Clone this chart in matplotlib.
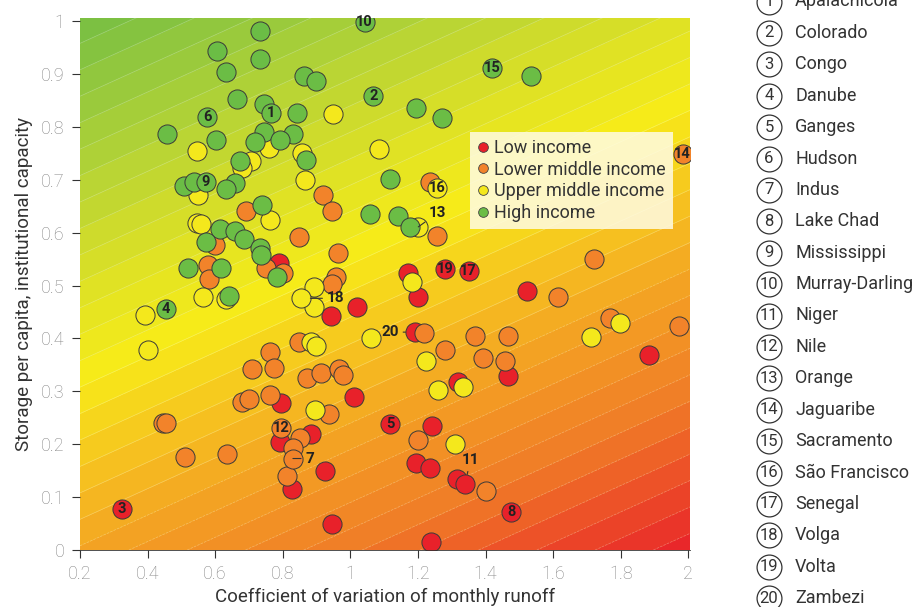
import numpy as np
import matplotlib.pyplot as plt
from matplotlib.colors import LinearSegmentedColormap
from matplotlib.lines import Line2D

plt.rcParams['font.family'] = ['Roboto', 'DejaVu Sans']

# basins by income group: (coefficient of variation of runoff, storage / institutional capacity)
low_x = [0.789, 1.019, 0.942, 0.796, 1.011, 0.883, 0.792, 0.924, 0.828, 0.947, 1.170,
         1.199, 1.522, 1.319, 1.466, 1.884, 1.242, 1.194, 1.235, 1.317, 1.239]
low_y = [0.542, 0.459, 0.442, 0.278, 0.289, 0.219, 0.205, 0.150, 0.116, 0.049, 0.523,
         0.479, 0.490, 0.318, 0.329, 0.369, 0.234, 0.164, 0.156, 0.134, 0.016]

lower_x = [0.920, 0.946, 0.691, 0.849, 0.962, 0.958, 0.945, 0.580, 0.599, 0.583, 0.751,
           0.802, 0.849, 0.762, 0.708, 0.775, 0.871, 0.913, 0.965, 0.979, 0.678, 0.699,
           0.763, 0.938, 0.447, 0.455, 0.851, 0.830, 0.510, 0.634, 0.812, 1.256, 1.218,
           1.370, 1.465, 1.281, 1.392, 1.459, 1.722, 1.613, 1.768, 1.972, 1.201, 1.402, 1.236]
lower_y = [0.672, 0.641, 0.641, 0.592, 0.561, 0.517, 0.503, 0.539, 0.577, 0.512, 0.533,
           0.523, 0.393, 0.375, 0.342, 0.344, 0.325, 0.335, 0.343, 0.331, 0.280, 0.285,
           0.294, 0.257, 0.240, 0.240, 0.211, 0.192, 0.176, 0.181, 0.139, 0.594, 0.410,
           0.405, 0.405, 0.379, 0.364, 0.357, 0.551, 0.479, 0.438, 0.424, 0.208, 0.112, 0.696]

upper_x = [0.950, 1.086, 0.547, 0.759, 0.858, 0.707, 0.680, 0.866, 0.549, 0.547, 0.557,
           0.762, 0.565, 0.632, 0.891, 0.893, 0.392, 0.400, 0.883, 0.899, 1.061, 0.894,
           1.182, 1.224, 1.258, 1.332, 1.311, 1.712, 1.799]
upper_y = [0.824, 0.759, 0.755, 0.761, 0.751, 0.736, 0.723, 0.699, 0.671, 0.619, 0.616,
           0.624, 0.478, 0.475, 0.498, 0.460, 0.444, 0.378, 0.393, 0.386, 0.401, 0.265,
           0.506, 0.357, 0.302, 0.309, 0.200, 0.402, 0.430]

high_x = [0.733, 0.605, 0.733, 0.632, 0.863, 0.897, 0.664, 0.744, 0.842, 0.458, 0.602,
          0.744, 0.717, 0.830, 0.793, 0.672, 0.868, 1.118, 0.509, 0.537, 0.660, 0.631,
          0.738, 1.058, 1.142, 1.177, 0.615, 0.660, 0.573, 0.686, 0.733, 0.735, 0.520,
          0.618, 0.782, 0.640, 1.534, 1.195, 1.272]
high_y = [0.982, 0.944, 0.928, 0.903, 0.896, 0.887, 0.852, 0.843, 0.827, 0.786, 0.775,
          0.791, 0.772, 0.786, 0.775, 0.735, 0.737, 0.701, 0.689, 0.696, 0.694, 0.682,
          0.652, 0.635, 0.632, 0.611, 0.607, 0.604, 0.583, 0.589, 0.572, 0.558, 0.534,
          0.534, 0.517, 0.481, 0.897, 0.836, 0.817]

# named basins, numbered 1..20
river_names = ['Apalachicola', 'Colorado', 'Congo', 'Danube', 'Ganges', 'Hudson', 'Indus',
               'Lake Chad', 'Mississippi', 'Murray-Darling', 'Niger', 'Nile', 'Orange',
               'Jaguaribe', 'Sacramento', 'São Francisco', 'Senegal', 'Volga', 'Volta', 'Zambezi']
river_x = [0.765, 1.068, 0.323, 0.455, 1.118, 0.576, 0.830, 1.476, 0.573, 1.042,
           1.339, 0.795, 1.201, 1.983, 1.420, 1.256, 1.350, 0.853, 1.281, 1.192]
river_y = [0.827, 0.859, 0.078, 0.455, 0.238, 0.819, 0.173, 0.071, 0.695, 0.998,
           0.125, 0.231, 0.611, 0.748, 0.912, 0.685, 0.528, 0.476, 0.531, 0.412]
river_group = ['high', 'high', 'low', 'high', 'low', 'high', 'lower', 'low', 'high', 'high',
               'low', 'lower', 'upper', 'lower', 'high', 'upper', 'low', 'upper', 'low', 'low']
# numbers written beside the dot instead of on it (offset in points)
callouts = {7: (12, 0), 11: (4, 17), 13: (14, 10), 18: (25, 0), 20: (-18, 0)}

groups = {
    'low': (low_x, low_y, '#E8212A', 'Low income'),
    'lower': (lower_x, lower_y, '#F2832A', 'Lower middle income'),
    'upper': (upper_x, upper_y, '#F4E81C', 'Upper middle income'),
    'high': (high_x, high_y, '#6BBD45', 'High income'),
}
order = ['low', 'lower', 'upper', 'high']

fig = plt.figure(figsize=(9.24, 6.07), dpi=100)
ax = fig.add_axes([80 / 924, 57 / 607, 610 / 924, 532 / 607])

# diagonal banded background: green (safe) to red (vulnerable)
bg = LinearSegmentedColormap.from_list('risk', [
    (0.00, '#E8202A'), (0.094, '#EC4A28'), (0.1875, '#F07A27'), (0.3125, '#F39D24'),
    (0.4375, '#F6C41F'), (0.544, '#F7EC18'), (0.656, '#DCE026'), (0.78, '#B5D336'),
    (1.00, '#6DBB45')])
gx, gy = np.meshgrid(np.linspace(0.2, 2.01, 400), np.linspace(0, 1.01, 300))
gz = gy - 0.29 * gx
levels = np.arange(-0.6, 1.0001, 0.05)
ax.contourf(gx, gy, gz, levels=levels, cmap=bg, zorder=0)
ax.contour(gx, gy, gz, levels=levels, colors='white', linewidths=0.5, alpha=0.3, zorder=0)

# dots, low income at the bottom of the stack
for z, g in enumerate(order):
    xs, ys, col, _ = groups[g]
    nx = [x for x, k in zip(river_x, river_group) if k == g]
    ny = [y for y, k in zip(river_y, river_group) if k == g]
    ax.scatter(list(xs) + nx, list(ys) + ny, s=190, c=col, edgecolors='#3a3a3a',
               linewidths=0.7, zorder=2 + z)

for i, (x, y) in enumerate(zip(river_x, river_y), start=1):
    if i in callouts:
        ax.annotate(str(i), (x, y), xytext=callouts[i], textcoords='offset points',
                    ha='center', va='center', fontsize=11, fontweight='bold', color='#222',
                    arrowprops=dict(arrowstyle='-', color='#333', lw=0.8, shrinkA=1, shrinkB=7),
                    zorder=8)
    else:
        ax.text(x, y, str(i), ha='center', va='center', fontsize=10.5, fontweight='bold',
                color='#222', zorder=8)

ax.set_xlim(0.2, 2.005)
ax.set_ylim(0, 1.006)
xt = np.round(np.arange(0.2, 2.01, 0.2), 1)
yt = np.round(np.arange(0, 1.01, 0.1), 1)
ax.set_xticks(xt)
ax.set_xticklabels([f'{v:g}' for v in xt])
ax.set_yticks(yt)
ax.set_yticklabels([f'{v:g}' for v in yt])
ax.tick_params(length=6, width=0.8, color='#333', labelcolor='#858585', labelsize=13, pad=5)
for lab in ax.get_xticklabels() + ax.get_yticklabels():
    lab.set_fontweight('light')
for side in ['top', 'right', 'left']:
    ax.spines[side].set_visible(False)
ax.spines['bottom'].set_linewidth(0.6)
ax.spines['bottom'].set_color('#333')
ax.set_xlabel('Coefficient of variation of monthly runoff', fontsize=13.5, color='#333', labelpad=3)
ax.set_ylabel('Storage per capita, institutional capacity', fontsize=13.5, color='#333', labelpad=6)

handles = [Line2D([], [], ls='', marker='o', ms=7, mfc=groups[g][2], mec='#444', mew=0.6)
           for g in order]
leg = ax.legend(handles, [groups[g][3] for g in order],
                loc='upper left', bbox_to_anchor=(0.639, 0.786), borderaxespad=0,
                fontsize=13, handlelength=0.7, handletextpad=0.25, labelspacing=0.2,
                borderpad=0.4, fancybox=False, framealpha=0.85)
leg.get_frame().set_facecolor('#FFFBE4')
leg.get_frame().set_edgecolor('none')
leg.set_zorder(9)
for t in leg.get_texts():
    t.set_color('#333')

# numbered key on the right
key = fig.add_axes([720 / 924, 0, 204 / 924, 1])
key.set_axis_off()
key.set_xlim(0, 1)
key.set_ylim(607 / 31.4 - 1.5 / 31.4, -1.5 / 31.4)
rows = np.arange(len(river_names))
key.scatter(np.full(len(rows), 0.2405), rows, s=320, facecolors='white',
            edgecolors='#333', linewidths=0.9, clip_on=False)
for r, name in zip(rows, river_names):
    key.text(0.2405, r, str(r + 1), ha='center', va='center', fontsize=12, color='#333',
             clip_on=False)
    key.text(0.368, r, name, ha='left', va='center', fontsize=13, color='#333', clip_on=False)

fig.savefig('out.png', dpi=100)
